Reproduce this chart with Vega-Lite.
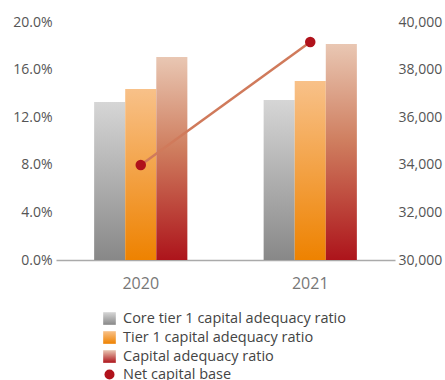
{
  "$schema": "https://vega.github.io/schema/vega-lite/v6.json",
  "autosize": "none",
  "padding": {"left": 56, "top": 22, "right": 50, "bottom": 120},
  "width": 339,
  "height": 238,
  "datasets": {
    "ratios": [
      {"year": "2020", "series": "Core tier 1 capital adequacy ratio", "value": 0.1328},
      {"year": "2020", "series": "Tier 1 capital adequacy ratio", "value": 0.1437},
      {"year": "2020", "series": "Capital adequacy ratio", "value": 0.1706},
      {"year": "2021", "series": "Core tier 1 capital adequacy ratio", "value": 0.1345},
      {"year": "2021", "series": "Tier 1 capital adequacy ratio", "value": 0.1504},
      {"year": "2021", "series": "Capital adequacy ratio", "value": 0.1815}
    ],
    "net": [
      {"year": "2020", "net": 33990},
      {"year": "2021", "net": 39160}
    ]
  },
  "config": {
    "view": {"stroke": null},
    "font": "Open Sans",
    "axis": {"grid": false, "ticks": false, "domain": false, "title": null, "labelFont": "Open Sans", "labelFontSize": 14, "labelColor": "#555555"}
  },
  "layer": [
    {
      "layer": [
        {
          "data": {"name": "ratios"},
          "transform": [{"filter": "datum.series === 'Core tier 1 capital adequacy ratio'"}],
          "mark": {"type": "bar", "strokeWidth": 0, "fill": {"gradient": "linear", "x1": 0, "y1": 0, "x2": 0, "y2": 1, "stops": [{"offset": 0, "color": "#d6d6d6"}, {"offset": 1, "color": "#888888"}]}},
          "encoding": {
            "x": {
              "field": "year", "type": "nominal",
              "scale": {"paddingInner": 0.45, "paddingOuter": 0.225},
              "axis": {"labelAngle": 0, "domain": true, "domainColor": "#aaaaaa", "domainWidth": 1.5, "labelPadding": 15, "labelFontSize": 16, "labelColor": "#777777"}
            },
            "xOffset": {
              "field": "series", "type": "nominal",
              "scale": {"domain": ["Core tier 1 capital adequacy ratio", "Tier 1 capital adequacy ratio", "Capital adequacy ratio"], "paddingInner": 0, "paddingOuter": 0}
            },
            "y": {
              "field": "value", "type": "quantitative",
              "scale": {"domain": [0, 0.2], "nice": false},
              "axis": {"orient": "left", "format": ".1%", "values": [0, 0.04, 0.08, 0.12, 0.16, 0.2], "labelPadding": 4}
            },
            "stroke": {
              "datum": "Core tier 1 capital adequacy ratio",
              "scale": {
                "domain": ["Core tier 1 capital adequacy ratio", "Tier 1 capital adequacy ratio", "Capital adequacy ratio", "Net capital base"],
                "range": ["rgba(0,0,0,0)", "rgba(0,0,0,0)", "rgba(0,0,0,0)", "rgba(0,0,0,0)"]
              },
              "legend": {
                "title": null,
                "orient": "none",
                "legendX": 46,
                "legendY": 289,
                "padding": 0,
                "direction": "vertical",
                "labelFont": "Open Sans",
                "labelFontSize": 14.5,
                "labelColor": "#444444",
                "labelLimit": 400,
                "symbolSize": 160,
                "symbolType": "square",
                "rowPadding": 0,
                "labelOffset": 6,
                "encoding": {
                  "symbols": {
                    "shape": {"value": {"expr": "datum.value === 'Net capital base' ? 'circle' : 'square'"}},
                    "size": {"value": {"expr": "datum.value === 'Net capital base' ? 100 : 160"}},
                    "opacity": {"value": 1},
                    "fill": {"value": {"expr": "datum.value === 'Core tier 1 capital adequacy ratio' ? {gradient: 'linear', x1: 0, y1: 0, x2: 0, y2: 1, stops: [{offset: 0, color: '#d6d6d6'}, {offset: 1, color: '#888888'}]} : datum.value === 'Tier 1 capital adequacy ratio' ? {gradient: 'linear', x1: 0, y1: 0, x2: 0, y2: 1, stops: [{offset: 0, color: '#f8c189'}, {offset: 1, color: '#ee8200'}]} : datum.value === 'Capital adequacy ratio' ? {gradient: 'linear', x1: 0, y1: 0, x2: 0, y2: 1, stops: [{offset: 0, color: '#e9c7b3'}, {offset: 1, color: '#ad141b'}]} : '#b0121b'"}}
                  }
                }
              }
            }
          }
        },
        {
          "data": {"name": "ratios"},
          "transform": [{"filter": "datum.series === 'Tier 1 capital adequacy ratio'"}],
          "mark": {"type": "bar", "strokeWidth": 0, "fill": {"gradient": "linear", "x1": 0, "y1": 0, "x2": 0, "y2": 1, "stops": [{"offset": 0, "color": "#f8c189"}, {"offset": 1, "color": "#ee8200"}]}},
          "encoding": {
            "x": {"field": "year", "type": "nominal"},
            "xOffset": {"field": "series", "type": "nominal"},
            "y": {"field": "value", "type": "quantitative"},
            "stroke": {"datum": "Tier 1 capital adequacy ratio"}
          }
        },
        {
          "data": {"name": "ratios"},
          "transform": [{"filter": "datum.series === 'Capital adequacy ratio'"}],
          "mark": {"type": "bar", "strokeWidth": 0, "fill": {"gradient": "linear", "x1": 0, "y1": 0, "x2": 0, "y2": 1, "stops": [{"offset": 0, "color": "#e9c7b3"}, {"offset": 0.45, "color": "#cf7e5f"}, {"offset": 1, "color": "#ad141b"}]}},
          "encoding": {
            "x": {"field": "year", "type": "nominal"},
            "xOffset": {"field": "series", "type": "nominal"},
            "y": {"field": "value", "type": "quantitative"},
            "stroke": {"datum": "Capital adequacy ratio"}
          }
        }
      ]
    },
    {
      "layer": [
        {
          "data": {"name": "net"},
          "mark": {"type": "line", "color": "#d07a5b", "strokeWidth": 2.5},
          "encoding": {
            "x": {"field": "year", "type": "nominal"},
            "y": {
              "field": "net", "type": "quantitative",
              "scale": {"domain": [30000, 40000], "nice": false},
              "axis": {"orient": "right", "format": ",.0f", "values": [30000, 32000, 34000, 36000, 38000, 40000], "labelPadding": 3}
            }
          }
        },
        {
          "data": {"name": "net"},
          "mark": {"type": "point", "filled": true, "opacity": 1, "size": 110, "fill": "#b0121b", "strokeWidth": 0},
          "encoding": {
            "x": {"field": "year", "type": "nominal"},
            "y": {"field": "net", "type": "quantitative"},
            "stroke": {"datum": "Net capital base"}
          }
        }
      ]
    }
  ],
  "resolve": {"scale": {"y": "independent"}}
}
